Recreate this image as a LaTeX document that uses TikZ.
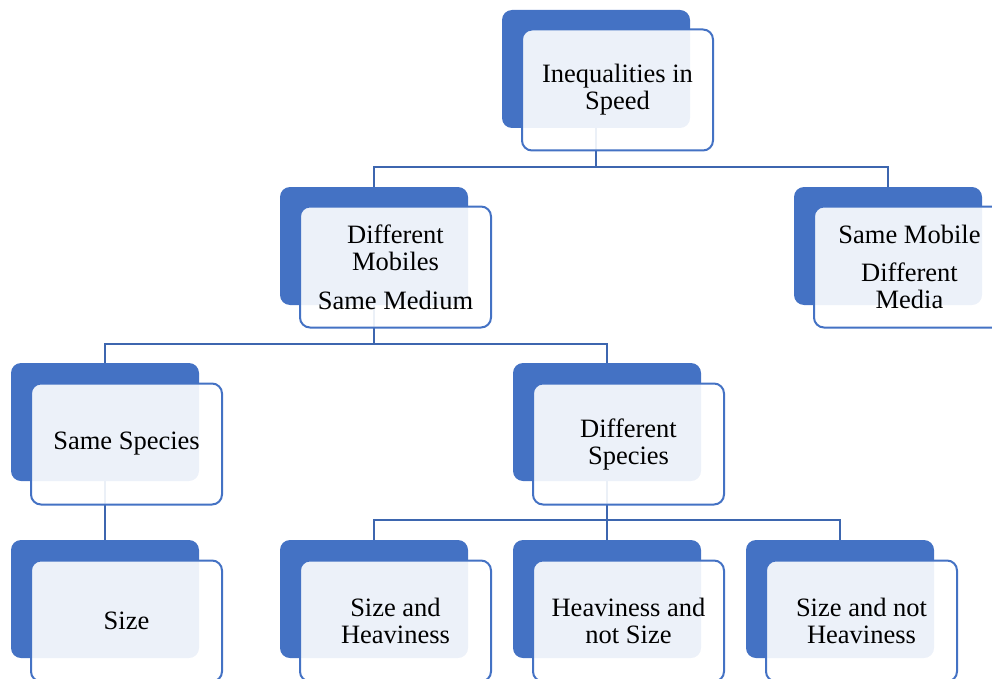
\documentclass[tikz,border=0pt]{standalone}
\usepackage{fontspec}
\setmainfont{Liberation Serif}
\definecolor{blueA}{HTML}{4472C4}
\definecolor{connC}{HTML}{3D66AF}
\tikzset{
  back/.style={fill=blueA, rounded corners=10pt, minimum width=188pt, minimum height=118pt, inner sep=0pt, outer sep=0pt, anchor=north west},
  front/.style={draw=blueA, line width=2pt, fill=white, fill opacity=0.9, text opacity=1, rounded corners=10pt, minimum width=191pt, minimum height=121pt, inner sep=0pt, anchor=north west, align=center, font=\fontsize{26.5}{27}\selectfont},
  conn/.style={draw=connC, line width=2pt}
}
\begin{document}
\begin{tikzpicture}[x=1pt,y=-1pt]
\useasboundingbox (0,0) rectangle (992,679);
\clip (0,0) rectangle (992,679);
% back boxes
\node[back] (Ab) at (502,10) {};
\node[back] (Bb) at (280,187) {};
\node[back] (Cb) at (794,187) {};
\node[back] (Db) at (11,363) {};
\node[back] (Eb) at (513,363) {};
\node[back] (Fb) at (11,540) {};
\node[back] (Gb) at (280,540) {};
\node[back] (Hb) at (513,540) {};
\node[back] (Ib) at (746,540) {};
% connectors
\draw[conn] (Ab.south) -- ++(0,39) -| (Bb.north);
\draw[conn] (Ab.south) -- ++(0,39) -| (Cb.north);
\draw[conn] (Bb.south) -- ++(0,39) -| (Db.north);
\draw[conn] (Bb.south) -- ++(0,39) -| (Eb.north);
\draw[conn] (Db.south) -- (Fb.north);
\draw[conn] (Eb.south) -- ++(0,39) -| (Gb.north);
\draw[conn] (Eb.south) -- ++(0,39) -| (Hb.north);
\draw[conn] (Eb.south) -- ++(0,39) -| (Ib.north);
% front boxes
\node[front] (Af) at (521,28.5) {Inequalities in\\Speed};
\node[front] (Bf) at (299,205.5) {Different\\Mobiles\\[12pt]Same Medium};
\node[front] (Cf) at (813,205.5) {Same Mobile\\[11pt]Different\\Media};
\node[front] (Df) at (30,382.5) {Same Species};
\node[front] (Ef) at (532,382.5) {Different\\Species};
\node[front] (Ff) at (30,559.5) {Size};
\node[front] (Gf) at (299,559.5) {Size and\\Heaviness};
\node[front] (Hf) at (532,559.5) {Heaviness and\\not Size};
\node[front] (If) at (765,559.5) {Size and not\\Heaviness};
\end{tikzpicture}
\end{document}
